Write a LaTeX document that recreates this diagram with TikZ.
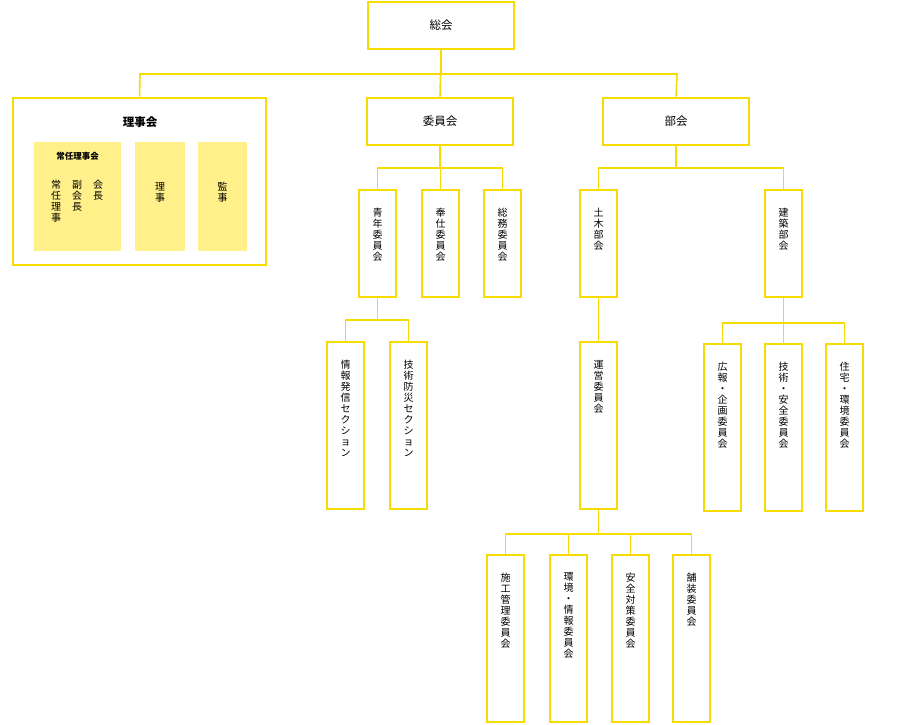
\documentclass[tikz,border=0pt]{standalone}
\usepackage{fontspec}
\setmainfont{Noto Sans CJK JP}
\definecolor{ybord}{HTML}{F7DC00}
\definecolor{yfill}{HTML}{FFF08A}
\begin{document}
\begin{tikzpicture}[x=1pt,y=-1pt,
 box/.style={draw=ybord,line width=2.6pt,fill=white,inner sep=0pt},
 sub/.style={fill=yfill,inner sep=0pt},
 vt/.style={font=\fontsize{10}{11}\selectfont,align=center,anchor=north,inner sep=0pt},
 ht/.style={font=\fontsize{11.5}{13}\selectfont},
 ln/.style={draw=ybord,line width=1.6pt}]
\useasboundingbox (0,0) rectangle (910,725);
\newcommand\hb[5]{\node[box,minimum width=#3-#1,minimum height=#4-#2] (#5) at ({(#1+#3)/2},{(#2+#4)/2}) {};}
\newcommand\vb[6]{\hb{#1}{#2}{#3}{#4}{#5}\node[vt] (#5t) at ([yshift=-19]#5.north) {#6};}
% top
\hb{368}{2}{514}{49}{sokai}\node[ht] at (sokai) {総会};
\hb{13}{98}{266}{265}{riji}\node[ht,font=\fontsize{11.5}{13}\selectfont\bfseries] (rijit) at (140,122) {理事会};
\hb{367}{98}{513}{145}{iin}\node[ht] at (iin) {委員会};
\hb{603}{98}{749}{145}{bu}\node[ht] at (bu) {部会};
\draw[ln] (sokai.south) -- (441,74) -- (140,74) -- (riji.north);
\draw[ln] (sokai.south) -- (iin.north);
\draw[ln] (441,74) -- (677,74) -- (bu.north);
% riji inner
\node[sub,minimum width=87,minimum height=109] (jonin) at (77.5,196.5) {};
\node[font=\fontsize{8.5}{10}\selectfont\bfseries] (jonint) at (77.5,156) {常任理事会};
\node[vt] (j1) at (56,180) {常\\任\\理\\事};
\node[vt] (j2) at (77,180) {副\\会\\長};
\node[vt] (j3) at (98,180) {会\\長};
\node[sub,minimum width=50,minimum height=109] (rj) at (160,196.5) {};
\node[vt] (rjt) at (160,182) {理\\事};
\node[sub,minimum width=49,minimum height=109] (kj) at (222.5,196.5) {};
\node[vt] (kjt) at (222.5,182) {監\\事};
% iinkai children
\vb{359}{190}{396}{297}{seinen}{青\\年\\委\\員\\会}
\vb{422}{190}{459}{297}{hoshi}{奉\\仕\\委\\員\\会}
\vb{484}{190}{521}{297}{somu}{総\\務\\委\\員\\会}
\draw[ln] (iin.south) -- (440,168) (seinen.north) |- (hoshi.north |- 0,168) -- (somu.north |- 0,168) -- (somu.north) (hoshi.north) -- (hoshi.north |- 0,168);
\vb{327}{342}{364}{509}{joho}{情\\報\\発\\信\\セ\\ク\\シ\\ョ\\ン}
\vb{390}{342}{427}{509}{bosai}{技\\術\\防\\災\\セ\\ク\\シ\\ョ\\ン}
\draw[ln] (seinen.south) -- (377.5,320) (joho.north) |- (bosai.north |- 0,320) -- (bosai.north);
% bukai children
\vb{580}{190}{617}{297}{doboku}{土\\木\\部\\会}
\vb{765}{190}{802}{297}{kenchiku}{建\\築\\部\\会}
\draw[ln] (bu.south) -- (676,168) (doboku.north) |- (kenchiku.north |- 0,168) -- (kenchiku.north);
\vb{580}{342}{617}{509}{unei}{運\\営\\委\\員\\会}
\draw[ln] (doboku.south) -- (unei.north);
\vb{704}{344}{741}{511}{koho}{広\\報\\・\\企\\画\\委\\員\\会}
\vb{765}{344}{802}{511}{gian}{技\\術\\・\\安\\全\\委\\員\\会}
\vb{826}{344}{863}{511}{jutaku}{住\\宅\\・\\環\\境\\委\\員\\会}
\draw[ln] (kenchiku.south) -- (gian.north) (koho.north) |- (jutaku.north |- 0,323) -- (jutaku.north);
\vb{487}{555}{524}{722}{seko}{施\\工\\管\\理\\委\\員\\会}
\vb{550}{555}{587}{722}{kankyo}{環\\境\\・\\情\\報\\委\\員\\会}
\vb{612}{555}{649}{722}{anzen}{安\\全\\対\\策\\委\\員\\会}
\vb{673}{555}{710}{722}{hoso}{舗\\装\\委\\員\\会}
\draw[ln] (unei.south) -- (598.5,534) (seko.north) |- (hoso.north |- 0,534) -- (hoso.north);
\draw[ln] (kankyo.north) -- (kankyo.north |- 0,534) (anzen.north) -- (anzen.north |- 0,534);
\end{tikzpicture}
\end{document}
